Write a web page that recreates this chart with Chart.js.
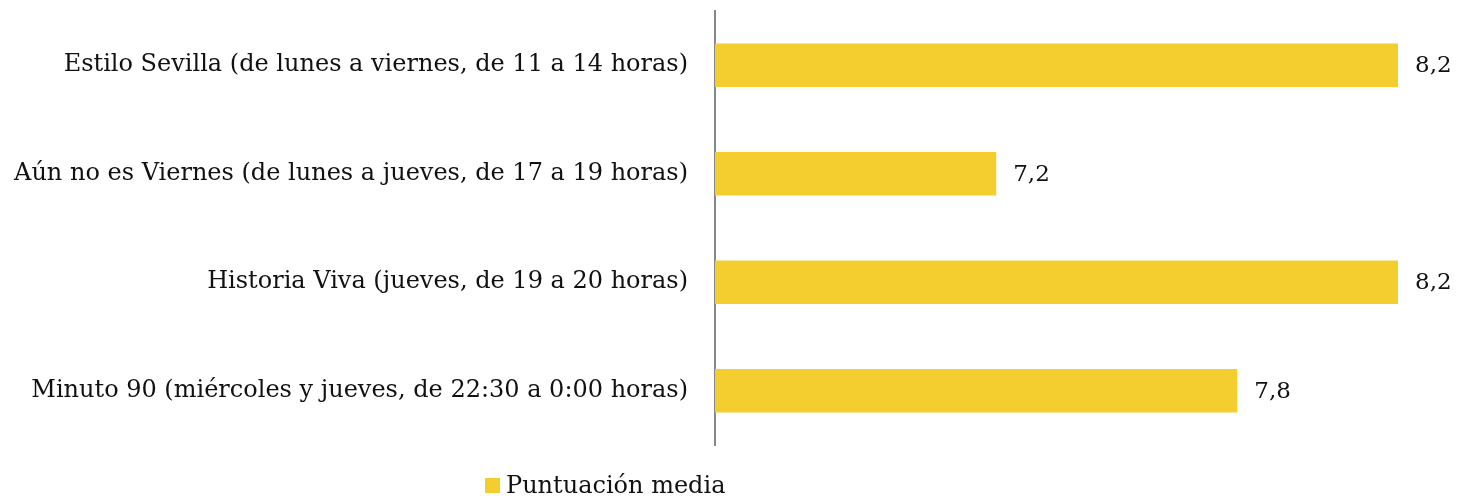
<!DOCTYPE html>
<html>
<head>
<meta charset="utf-8">
<script src="https://cdn.jsdelivr.net/npm/chart.js@4"></script>
<style>
  html, body { margin: 0; padding: 0; background: #fff; }
  #wrap { position: relative; width: 1457px; height: 499px; }
  #legend {
    position: absolute; left: 485px; top: 471px; height: 28px; line-height: 28px;
    font-family: "DejaVu Serif", serif; font-size: 24px; color: #111;
    display: flex; align-items: center;
  }
  #legend span.box { width: 15px; height: 15px; background: #F4CE2E; margin-right: 6px; display: inline-block; }
</style>
</head>
<body>
<div id="wrap">
  <canvas id="chart" width="1457" height="499"></canvas>
  <div id="legend"><span class="box"></span><span id="legendText"></span></div>
</div>
<script>
// Chart data
const categories = [
    'Estilo Sevilla (de lunes a viernes, de 11 a 14 horas)',
    'Aún no es Viernes (de lunes a jueves, de 17 a 19 horas)',
    'Historia Viva (jueves, de 19 a 20 horas)',
    'Minuto 90 (miércoles y jueves, de 22:30 a 0:00 horas)'
];
const scores = [8.2, 7.2, 8.2, 7.8];
const seriesName = 'Puntuación media';

const FONT = '"DejaVu Serif", serif';
const BAR_COLOR = '#F4CE2E';

// Draw the value next to each bar (comma decimal)
const valueLabels = {
    id: 'valueLabels',
    afterDatasetsDraw(chart) {
        const ctx = chart.ctx;
        const meta = chart.getDatasetMeta(0);
        ctx.save();
        ctx.font = '23px ' + FONT;
        ctx.fillStyle = '#111';
        ctx.textAlign = 'left';
        ctx.textBaseline = 'middle';
        meta.data.forEach((bar, i) => {
            const txt = scores[i].toFixed(1).replace('.', ',');
            ctx.fillText(txt, bar.x + 17, bar.y + 1);
        });
        ctx.restore();
    }
};

document.getElementById('legendText').textContent = seriesName;

function renderChart() {
    const ctx = document.getElementById('chart').getContext('2d');
    new Chart(ctx, {
        type: 'bar',
        data: {
            labels: categories,
            datasets: [{
                label: seriesName,
                data: scores,
                backgroundColor: BAR_COLOR,
                borderWidth: 0,
                barPercentage: 0.4,
                categoryPercentage: 1.0
            }]
        },
        options: {
            indexAxis: 'y',
            responsive: false,
            animation: false,
            layout: { padding: { top: 11, bottom: 54, right: 59, left: 0 } },
            plugins: {
                legend: { display: false },
                tooltip: { enabled: false }
            },
            scales: {
                x: {
                    display: false,
                    min: 6.5,
                    max: 8.2
                },
                y: {
                    grid: { display: false, drawTicks: false },
                    border: { display: true, color: '#888', width: 2 },
                    ticks: {
                        padding: 27,
                        color: '#111',
                        font: { family: FONT, size: 24 }
                    },
                    afterFit(scale) {
                        // labels sit beside their bars, no extra room needed above/below
                        scale.paddingTop = 0;
                        scale.paddingBottom = 0;
                        scale.width = 715;
                    }
                }
            }
        },
        plugins: [valueLabels]
    });
}

document.addEventListener('DOMContentLoaded', function () {
    renderChart();
});
</script>
</body>
</html>
